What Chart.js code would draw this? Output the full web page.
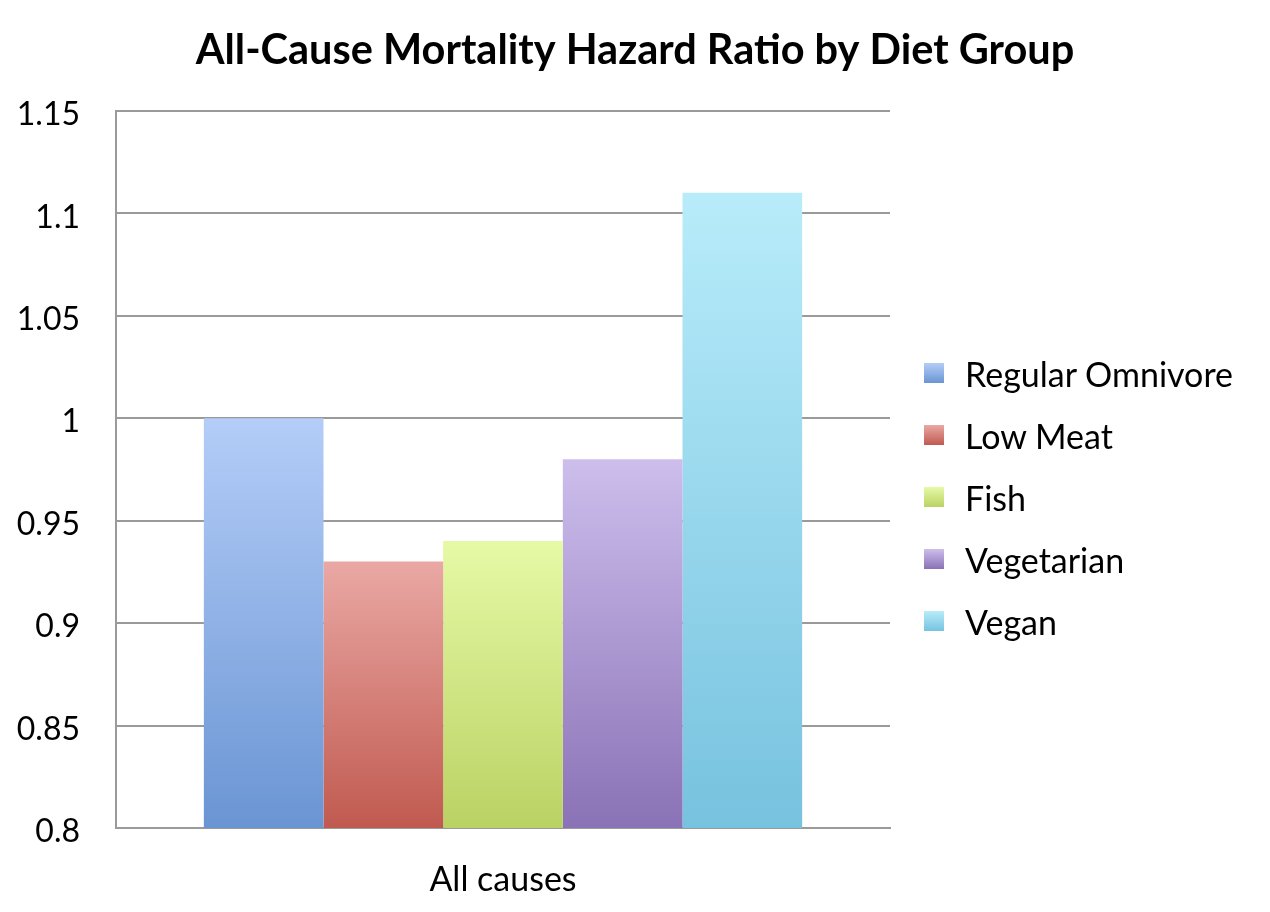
<!DOCTYPE html>
<html lang="en">
<head>
    <meta charset="UTF-8">
    <title>All-Cause Mortality Hazard Ratio by Diet Group</title>
    <script src="https://cdn.jsdelivr.net/npm/chart.js"></script>
    <style>
        body {
            margin: 0;
            background: #ffffff;
        }
        .wrap {
            position: relative;
            width: 1270px;
            height: 912px;
        }
        #chart {
            display: block;
        }
        #legend {
            position: absolute;
            left: 924px;
            top: 342px;
            font-family: Lato, "Open Sans", sans-serif;
            font-size: 34px;
            color: #000;
        }
        #legend .item {
            display: flex;
            align-items: center;
            height: 62px;
            white-space: nowrap;
        }
        #legend .box {
            width: 20px;
            height: 20px;
            margin-right: 21px;
        }
    </style>
</head>
<body>
    <div class="wrap">
        <canvas id="chart" width="1270" height="912"></canvas>
        <div id="legend"></div>
    </div>

    <script>
        // data
        const categories = ['All causes'];
        const groups = ['Regular Omnivore', 'Low Meat', 'Fish', 'Vegetarian', 'Vegan'];
        const hazardRatios = [1.00, 0.93, 0.94, 0.98, 1.11];

        // bar colours, top (light) to bottom (dark)
        const topColors = ['#b4cdf8', '#eaa8a4', '#e6f9a6', '#cdbeec', '#b8ecfa'];
        const bottomColors = ['#6a95d3', '#c05a50', '#bad264', '#8a72b6', '#77c2df'];
        const midColors = ['#8fb0e6', '#d6807a', '#d0e585', '#ab98d1', '#98d7ec'];

        const fontFamily = 'Lato, "Open Sans", sans-serif';
        const gridGrey = '#9a9a9a';

        function barGradient(c) {
            const i = c.datasetIndex;
            const chart = c.chart;
            const area = chart.chartArea;
            if (!area || c.type !== 'data') return midColors[i];
            const top = chart.scales.y.getPixelForValue(c.raw);
            const g = chart.ctx.createLinearGradient(0, top, 0, area.bottom);
            g.addColorStop(0, topColors[i]);
            g.addColorStop(1, bottomColors[i]);
            return g;
        }

        const datasets = groups.map((name, i) => ({
            label: name,
            data: [hazardRatios[i]],
            backgroundColor: barGradient,
            borderWidth: 0,
            categoryPercentage: 0.773,
            barPercentage: 1.0
        }));

        new Chart(document.getElementById('chart'), {
            type: 'bar',
            data: {
                labels: categories,
                datasets: datasets
            },
            options: {
                responsive: false,
                animation: false,
                devicePixelRatio: 1,
                layout: {
                    padding: 0
                },
                plugins: {
                    title: {
                        display: true,
                        text: 'All-Cause Mortality Hazard Ratio by Diet Group',
                        color: '#000',
                        font: { family: fontFamily, size: 41.5, weight: 'bold' },
                        padding: { top: 26, bottom: 35 }
                    },
                    // legend is built in html below, the built-in one gets squeezed on the right
                    legend: { display: false },
                    tooltip: { enabled: false }
                },
                scales: {
                    x: {
                        grid: { display: false, drawTicks: false },
                        border: { display: true, color: gridGrey, width: 2 },
                        ticks: {
                            color: '#000',
                            padding: 32,
                            font: { family: fontFamily, size: 34 }
                        },
                        afterFit: scale => { scale.height = 84; }
                    },
                    y: {
                        min: 0.8,
                        max: 1.15,
                        grid: { color: gridGrey, lineWidth: 2, drawTicks: false },
                        border: { display: true, color: gridGrey, width: 2 },
                        ticks: {
                            stepSize: 0.05,
                            color: '#000',
                            padding: 36,
                            labelOffset: 4,
                            font: { family: fontFamily, size: 32 },
                            callback: v => String(Math.round(v * 100) / 100)
                        },
                        afterFit: scale => { scale.width = 116; }
                    },
                    // empty axis that just keeps room for the legend
                    legendSpace: {
                        type: 'linear',
                        position: 'right',
                        grid: { display: false, drawTicks: false },
                        border: { display: false },
                        ticks: { display: false },
                        afterFit: scale => { scale.width = 380; }
                    }
                }
            }
        });

        const legendEl = document.getElementById('legend');
        groups.forEach((name, i) => {
            const item = document.createElement('div');
            item.className = 'item';
            const box = document.createElement('span');
            box.className = 'box';
            box.style.background = `linear-gradient(${topColors[i]}, ${bottomColors[i]})`;
            const label = document.createElement('span');
            label.textContent = name;
            item.appendChild(box);
            item.appendChild(label);
            legendEl.appendChild(item);
        });
    </script>
</body>
</html>
